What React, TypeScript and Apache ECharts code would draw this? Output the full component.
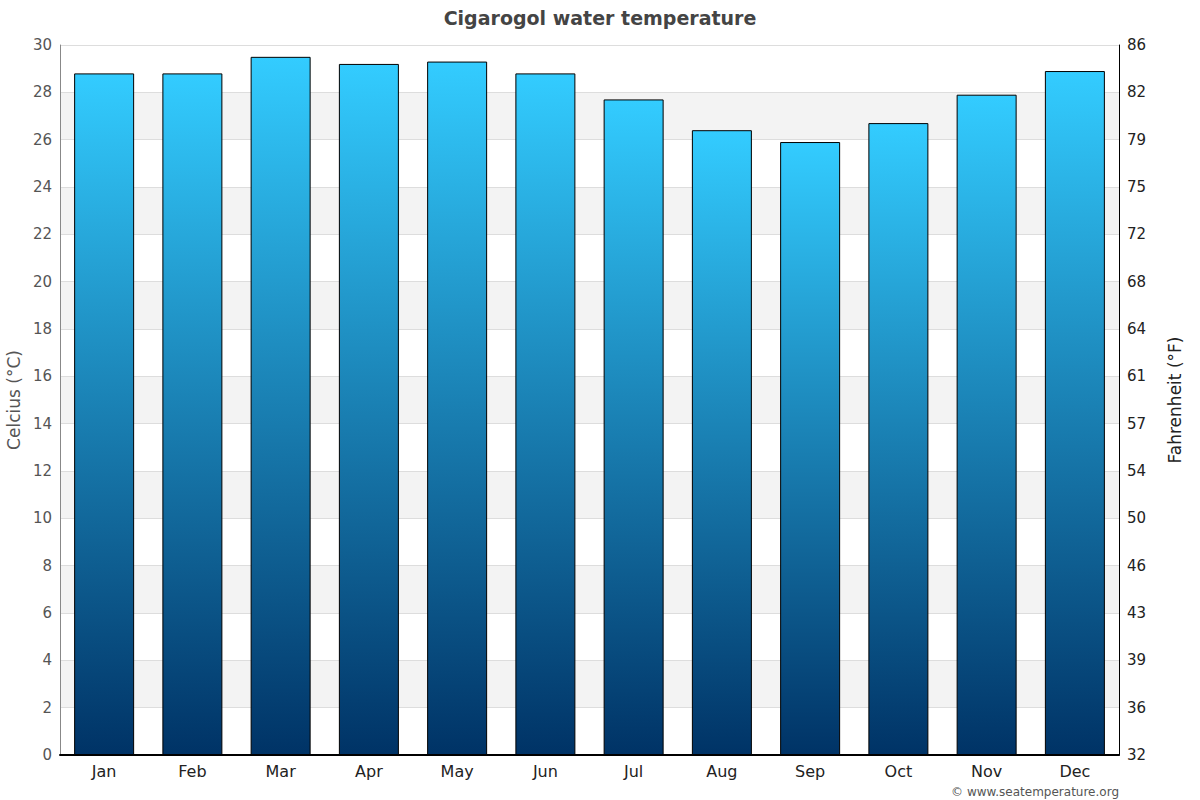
import React, { useEffect, useRef } from 'react';
import * as echarts from 'echarts';

const months = ['Jan', 'Feb', 'Mar', 'Apr', 'May', 'Jun', 'Jul', 'Aug', 'Sep', 'Oct', 'Nov', 'Dec'];
const waterTemp = [28.8, 28.8, 29.5, 29.2, 29.3, 28.8, 27.7, 26.4, 25.9, 26.7, 27.9, 28.9];
// right axis labels, one per 2 °C tick
const fahrenheitTicks = ['32', '36', '39', '43', '46', '50', '54', '57', '61', '64', '68', '72', '75', '79', '82', '86'];

const FONT = 'DejaVu Sans';

const App: React.FC = () => {
    const chartRef = useRef<HTMLDivElement>(null);

    useEffect(() => {
        document.body.style.margin = '0';
        if (!chartRef.current) return;

        const chart = echarts.init(chartRef.current, undefined, { renderer: 'svg' });

        const option = {
            animation: false,
            textStyle: { fontFamily: FONT },
            title: {
                text: 'Cigarogol water temperature',
                left: 'center',
                top: 3,
                textStyle: { fontFamily: FONT, fontSize: 19, fontWeight: 'bold', color: '#444444' }
            },
            graphic: [
                {
                    type: 'text',
                    right: 81,
                    bottom: 2,
                    style: { text: '© www.seatemperature.org', fontFamily: FONT, fontSize: 12, fill: '#555555' }
                }
            ],
            grid: { left: 60, right: 81, top: 45, bottom: 45, outerBoundsMode: 'none' },
            xAxis: {
                type: 'category',
                data: months,
                axisLine: { lineStyle: { color: '#000000', width: 2 } },
                axisTick: { show: false },
                axisLabel: { fontFamily: FONT, fontSize: 16, color: '#222222', margin: 8 }
            },
            yAxis: [
                {
                    type: 'value',
                    min: 0,
                    max: 30,
                    interval: 2,
                    name: 'Celcius (°C)',
                    nameLocation: 'middle',
                    nameGap: 34,
                    nameTextStyle: { fontFamily: FONT, fontSize: 17, color: '#555555' },
                    axisLine: { show: true, lineStyle: { color: '#888888' } },
                    axisTick: { show: false },
                    axisLabel: { fontFamily: FONT, fontSize: 15, color: '#555555', margin: 8 },
                    splitLine: { show: true, lineStyle: { color: '#dddddd' } },
                    splitArea: { show: true, areaStyle: { color: ['#ffffff', '#f3f3f3'] } }
                },
                {
                    type: 'value',
                    min: 0,
                    max: 30,
                    interval: 2,
                    position: 'right',
                    name: 'Fahrenheit (°F)',
                    nameLocation: 'middle',
                    nameGap: 47,
                    nameTextStyle: { fontFamily: FONT, fontSize: 17, color: '#222222' },
                    axisLine: { show: true, lineStyle: { color: '#000000' } },
                    axisTick: { show: false },
                    axisLabel: {
                        fontFamily: FONT,
                        fontSize: 15,
                        color: '#222222',
                        margin: 8,
                        formatter: (v: number) => fahrenheitTicks[Math.round(v / 2)]
                    },
                    splitLine: { show: false }
                }
            ],
            series: [
                {
                    name: 'Water temperature',
                    type: 'bar',
                    data: waterTemp,
                    barWidth: 60,
                    itemStyle: {
                        borderColor: '#000000',
                        borderWidth: 1,
                        color: new echarts.graphic.LinearGradient(0, 0, 0, 1, [
                            { offset: 0, color: '#33ccff' },
                            { offset: 1, color: '#003366' }
                        ])
                    }
                }
            ]
        };

        chart.setOption(option);

        const handleResize = () => chart.resize();
        window.addEventListener('resize', handleResize);

        return () => {
            window.removeEventListener('resize', handleResize);
            chart.dispose();
        };
    }, []);

    return <div ref={chartRef} style={{ width: 1200, height: 800 }} />;
};

export default App;
